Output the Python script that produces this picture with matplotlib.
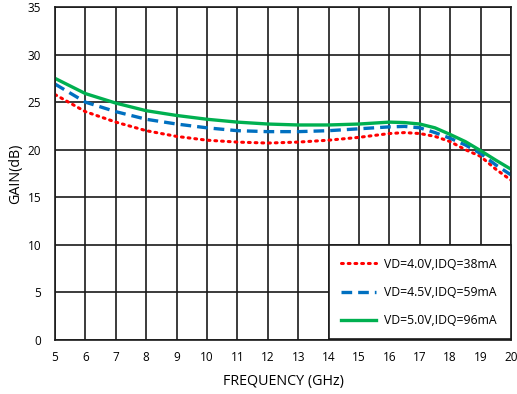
import numpy as np
import matplotlib
matplotlib.use('Agg')
import matplotlib.pyplot as plt

# frequency points (GHz)
freq = [5, 6, 7, 8, 9, 10, 11, 12, 13, 14, 15, 16, 16.5, 17, 17.5, 18, 18.5, 19, 19.5, 20]

# gain (dB) for each bias condition
gain_40 = [25.8, 24.0, 22.9, 22.0, 21.4, 21.0, 20.8, 20.7, 20.8, 21.0, 21.3, 21.7, 21.8, 21.7, 21.4, 20.85, 20.0, 19.3, 17.95, 16.8]
gain_45 = [26.9, 25.0, 24.0, 23.2, 22.7, 22.3, 22.0, 21.9, 21.9, 22.0, 22.2, 22.4, 22.45, 22.3, 21.8, 21.2, 20.5, 19.6, 18.4, 17.35]
gain_50 = [27.5, 25.9, 24.9, 24.1, 23.6, 23.2, 22.9, 22.7, 22.6, 22.6, 22.7, 22.9, 22.85, 22.7, 22.3, 21.6, 20.85, 19.9, 18.9, 17.95]

labels = ['VD=4.0V,IDQ=38mA', 'VD=4.5V,IDQ=59mA', 'VD=5.0V,IDQ=96mA']

plt.rcParams['font.family'] = ['Open Sans', 'DejaVu Sans']

fig = plt.figure(figsize=(5.17, 3.94), dpi=100)
ax = fig.add_axes([55 / 517, 54 / 394, 456 / 517, 333 / 394])

ax.plot(freq, gain_40, color='#FF0000', lw=2.2, linestyle=(0, (0.6, 1.6)),
        dash_capstyle='round', label=labels[0])
ax.plot(freq, gain_45, color='#0070C0', lw=2.4, linestyle=(0, (3.2, 1.8)), label=labels[1])
ax.plot(freq, gain_50, color='#00B050', lw=2.4, label=labels[2])

ax.set_xlim(5, 20)
ax.set_ylim(0, 35)
ax.set_xticks(range(5, 21))
ax.set_yticks(range(0, 36, 5))
ax.grid(True, color='#1a1a1a', lw=1.2)
ax.set_axisbelow(True)
for s in ax.spines.values():
    s.set_color('#1a1a1a')
    s.set_linewidth(1.2)
ax.tick_params(length=0, labelsize=8.5)
ax.tick_params(axis='x', pad=8)
ax.tick_params(axis='y', pad=10)

ax.set_xlabel('FREQUENCY (GHz)', fontsize=10.3, labelpad=7)
ax.set_ylabel('GAIN(dB)', fontsize=10.3, labelpad=3)

leg = ax.legend(loc='center', bbox_to_anchor=(14, 0, 6, 10), bbox_transform=ax.transData,
                mode='expand', borderaxespad=0, fontsize=8.8, frameon=True,
                fancybox=False, handlelength=2.9, handletextpad=0.6,
                labelspacing=1.25, borderpad=1.0)
leg.get_frame().set_edgecolor('#1a1a1a')
leg.get_frame().set_linewidth(1.2)
leg.get_frame().set_alpha(1)

fig.savefig('out.png', dpi=100)
